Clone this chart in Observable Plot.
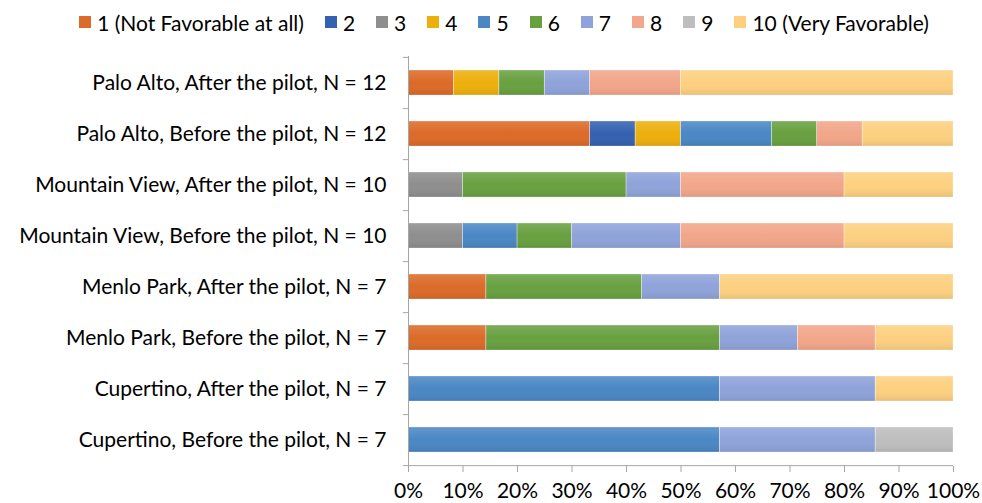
<!DOCTYPE html>
<html>
<head>
<meta charset="utf-8">
<script src="https://cdn.jsdelivr.net/npm/d3@7"></script>
<script src="https://cdn.jsdelivr.net/npm/@observablehq/plot@0.6"></script>
<style>
  html, body { margin: 0; padding: 0; background: #fff; }
  body { width: 982px; font-family: Lato, "Open Sans", sans-serif; color: #000; }
  #legend { height: 44px; display: flex; align-items: center; justify-content: center; padding-left: 26px; box-sizing: border-box; font-size: 21px; }
  .item { display: flex; align-items: center; margin-right: 21px; }
  .item:last-child { margin-right: 0; }
  .sw { width: 12px; height: 12px; margin-right: 6px; }
</style>
</head>
<body>
<div id="legend"></div>
<div id="chart"></div>
<script>
const categories = [
  "Palo Alto, After the pilot, N = 12",
  "Palo Alto, Before the pilot, N = 12",
  "Mountain View, After the pilot, N = 10",
  "Mountain View, Before the pilot, N = 10",
  "Menlo Park, After the pilot, N = 7",
  "Menlo Park, Before the pilot, N = 7",
  "Cupertino, After the pilot, N = 7",
  "Cupertino, Before the pilot, N = 7"
];
const ratings = ["1 (Not Favorable at all)", "2", "3", "4", "5", "6", "7", "8", "9", "10 (Very Favorable)"];
const colors = ["#DC6A28", "#3461B0", "#8E8E8E", "#EDAF0C", "#4A87C4", "#68A040", "#8FA3DA", "#F2A68A", "#BEBEBE", "#FDD080"];
// counts of respondents per rating (1..10) for each category
const paloAltoAfter       = [1, 0, 0, 1, 0, 1, 1, 2, 0, 6];
const paloAltoBefore      = [4, 1, 0, 1, 2, 1, 0, 1, 0, 2];
const mountainViewAfter   = [0, 0, 1, 0, 0, 3, 1, 3, 0, 2];
const mountainViewBefore  = [0, 0, 1, 0, 1, 1, 2, 3, 0, 2];
const menloParkAfter      = [1, 0, 0, 0, 0, 2, 1, 0, 0, 3];
const menloParkBefore     = [1, 0, 0, 0, 0, 3, 1, 1, 0, 1];
const cupertinoAfter      = [0, 0, 0, 0, 4, 0, 2, 0, 0, 1];
const cupertinoBefore     = [0, 0, 0, 0, 4, 0, 2, 0, 1, 0];
const xTicks = [0, 0.1, 0.2, 0.3, 0.4, 0.5, 0.6, 0.7, 0.8, 0.9, 1];

const seriesCounts = [paloAltoAfter, paloAltoBefore, mountainViewAfter, mountainViewBefore,
                      menloParkAfter, menloParkBefore, cupertinoAfter, cupertinoBefore];
const rows = [];
categories.forEach((c, i) => {
  seriesCounts[i].forEach((n, j) => {
    if (n > 0) rows.push({group: c, rating: ratings[j], count: n});
  });
});

// legend
const legend = document.getElementById("legend");
ratings.forEach((r, i) => {
  const it = document.createElement("div");
  it.className = "item";
  const sw = document.createElement("div");
  sw.className = "sw";
  sw.style.background = colors[i];
  const t = document.createElement("span");
  t.textContent = r;
  it.appendChild(sw); it.appendChild(t);
  legend.appendChild(it);
});

// gradient definition (subtle Excel-style shading)
const NS = "http://www.w3.org/2000/svg";
function shadeDefs() {
  const defs = document.createElementNS(NS, "defs");
  const lg = document.createElementNS(NS, "linearGradient");
  lg.setAttribute("id", "barShade");
  lg.setAttribute("x1", "0"); lg.setAttribute("y1", "0");
  lg.setAttribute("x2", "0"); lg.setAttribute("y2", "1");
  [["0", "#ffffff", "0.14"], ["0.5", "#ffffff", "0"], ["1", "#000000", "0.08"]].forEach(([o, c, op]) => {
    const s = document.createElementNS(NS, "stop");
    s.setAttribute("offset", o); s.setAttribute("stop-color", c); s.setAttribute("stop-opacity", op);
    lg.appendChild(s);
  });
  defs.appendChild(lg);
  return defs;
}

const H = 459, mT = 12, mB = 37;
const step = (H - mT - mB) / categories.length;

const chart = Plot.plot({
  width: 982,
  height: H,
  marginLeft: 408,
  marginRight: 29,
  marginTop: mT,
  marginBottom: mB,
  style: {fontFamily: "Lato, 'Open Sans', sans-serif", fontSize: "21px", color: "#000", background: "#fff"},
  x: {domain: [0, 1], ticks: xTicks, tickFormat: d3.format(".0%"), label: null},
  y: {domain: categories, paddingInner: 0.51, paddingOuter: 0.255, label: null},
  color: {domain: ratings, range: colors},
  marks: [
    shadeDefs,
    Plot.barX(rows, {
      x: "count", y: "group", fill: "rating",
      offset: "normalize", order: ratings
    }),
    Plot.barX(rows, {
      x: "count", y: "group", z: "rating", fill: "url(#barShade)",
      offset: "normalize", order: ratings,
      stroke: "#fff", strokeOpacity: 0.45, strokeWidth: 0.6
    }),
    Plot.ruleX([0], {stroke: "#A6A6A6", strokeWidth: 1}),
    Plot.ruleY([0], {x1: 0, x2: 1, y: () => categories[categories.length - 1], dy: step / 2, stroke: "#A6A6A6"}),
    Plot.ruleY(categories, {y: d => d, x1: -0.0095, x2: 0, dy: step / 2, stroke: "#A6A6A6"}),
    Plot.ruleY([categories[0]], {y: d => d, x1: -0.0095, x2: 0, dy: -step / 2, stroke: "#A6A6A6"}),
    Plot.axisX({ticks: xTicks, tickFormat: d3.format(".0%"), tickSize: 6, tickPadding: 11, stroke: "#A6A6A6", fontSize: 21, label: null}),
    Plot.axisY({tickSize: 0, tickPadding: 22, fontSize: 21, label: null})
  ]
});
document.getElementById("chart").appendChild(chart);
</script>
</body>
</html>
